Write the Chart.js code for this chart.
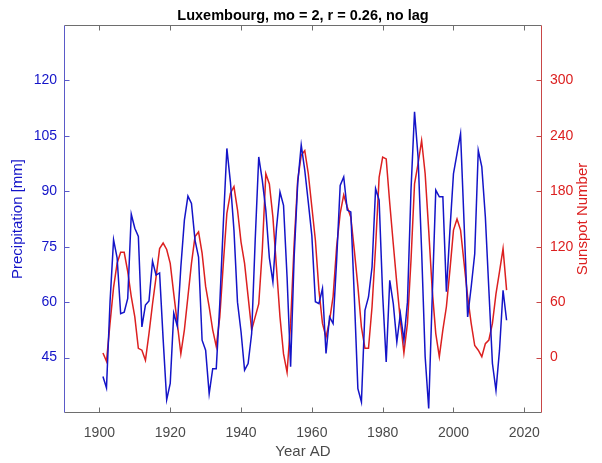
<!DOCTYPE html>
<html>
<head>
<meta charset="utf-8">
<script src="https://cdn.jsdelivr.net/npm/chart.js@4.4.0/dist/chart.umd.min.js"></script>
<style>
  html, body { margin: 0; padding: 0; background: #fff; }
  #wrap { width: 602px; height: 463px; }
</style>
</head>
<body>
<div id="wrap"><canvas id="chart" width="602" height="463"></canvas></div>
<script>
// Chart data
const firstYear = 1901;

const precipitation = [
    39.9, 36.8, 60, 76.9, 72, 56.9, 57.3, 61, 83.8, 80,
    77.8, 53.3, 59.2, 60.3, 71.1, 67.3, 67.9, 50, 33.6, 38,
    57, 53.5, 69.5, 82.2, 88.7, 86.7, 76.8, 72.2, 49.7, 47,
    35.2, 42, 42, 59.6, 81.3, 101.6, 92.5, 79.5, 60, 52,
    41.6, 43.4, 51.5, 76.8, 99.3, 93, 84.9, 72, 65.5, 79.9,
    89.8, 86.2, 66.8, 42.5, 72.2, 92.1, 102.5, 95.7, 87, 78,
    60.1, 59.6, 63.7, 46.1, 56, 54.2, 71.3, 91.6, 93.9, 84.9,
    84.4, 61.4, 36.6, 33, 57.8, 61.4, 69.5, 90.7, 87.6, 62,
    43.8, 65.9, 59.6, 49.2, 56.9, 49.7, 60, 90.3, 111.5, 99.3,
    74, 45.2, 31.2, 61.4, 90.3, 88.5, 88.5, 62.8, 79.5, 94.8,
    100.2, 105.6, 81.3, 56, 64.1, 73.1, 101.1, 96.6, 83.1, 63.2,
    43.4, 36.1, 47, 63.2, 55.1
];

const sunspots = [
    5, -4, 37, 76, 102, 114, 114, 93, 66, 44,
    10, 8, -3, 26, 58, 87, 118, 124, 117, 102,
    69, 37, 4, 30, 66, 102, 131, 136, 113, 77,
    55, 30, 12, 44, 102, 156, 178, 185, 160, 125,
    102, 66, 30, 44, 58, 116, 199, 188, 152, 98,
    44, 4, -16, 37, 123, 192, 219, 224, 199, 163,
    127, 73, 37, 22, 40, 66, 120, 156, 176, 163,
    152, 116, 77, 33, 10, 10, 55, 120, 195, 217,
    215, 167, 123, 80, 40, 5, 37, 105, 188, 210,
    235, 199, 138, 73, 26, 1, 30, 55, 95, 138,
    150, 138, 102, 66, 37, 13, 8, 1, 15, 19,
    37, 69, 93, 118, 73
];

const yearTicks = [1900, 1920, 1940, 1960, 1980, 2000, 2020];
const precipTicks = [45, 60, 75, 90, 105, 120];
const sunspotTicks = [0, 60, 120, 180, 240, 300];

const blue = '#1414c8';
const red = '#dc2020';
const blueAxis = '#5a5ac8';
const redAxis = '#c84646';
const grayAxis = '#6e6e6e';
const font = 'Liberation Sans, Arial, Helvetica, sans-serif';

function toPoints(values) {
    return values.map((v, i) => ({ x: firstYear + i, y: v }));
}

// MATLAB style box with inward ticks, title and right label
const frame = {
    id: 'frame',
    afterDraw(chart) {
        const ctx = chart.ctx;
        const a = chart.chartArea;
        const s = chart.scales;
        const len = 5;
        ctx.save();
        ctx.lineWidth = 1;
        const seg = (x1, y1, x2, y2, c) => {
            ctx.strokeStyle = c;
            ctx.beginPath();
            ctx.moveTo(x1, y1);
            ctx.lineTo(x2, y2);
            ctx.stroke();
        };
        const L = Math.round(a.left) + 0.5, R = Math.round(a.right) - 0.5;
        const T = Math.round(a.top) + 0.5, B = Math.round(a.bottom) - 0.5;
        seg(L, T, R, T, grayAxis);
        seg(L, B, R, B, grayAxis);
        seg(L, T, L, B, blueAxis);
        seg(R, T, R, B, redAxis);
        yearTicks.forEach(t => {
            const x = Math.round(s.x.getPixelForValue(t)) + 0.5;
            seg(x, B, x, B - len, grayAxis);
            seg(x, T, x, T + len, grayAxis);
        });
        precipTicks.forEach(t => {
            const y = Math.round(s.y.getPixelForValue(t)) + 0.5;
            seg(L, y, L + len, y, blueAxis);
        });
        sunspotTicks.forEach(t => {
            const y = Math.round(s.y2.getPixelForValue(t)) + 0.5;
            seg(R, y, R - len, y, redAxis);
        });
        // title
        ctx.fillStyle = '#000';
        ctx.font = 'bold 14.5px ' + font;
        ctx.textAlign = 'center';
        ctx.textBaseline = 'middle';
        ctx.fillText('Luxembourg, mo = 2, r = 0.26, no lag', (a.left + a.right) / 2, 16);
        // right axis label, reading bottom to top
        ctx.translate(583, (a.top + a.bottom) / 2);
        ctx.rotate(-Math.PI / 2);
        ctx.fillStyle = red;
        ctx.font = '15px ' + font;
        ctx.fillText('Sunspot Number', 0, 0);
        ctx.restore();
    }
};

new Chart(document.getElementById('chart'), {
    type: 'line',
    data: {
        datasets: [
            {
                label: 'Precipitation',
                data: toPoints(precipitation),
                yAxisID: 'y',
                borderColor: blue,
                borderWidth: 1.5,
                pointRadius: 0,
                tension: 0,
                fill: false
            },
            {
                label: 'Sunspot Number',
                data: toPoints(sunspots),
                yAxisID: 'y2',
                borderColor: red,
                borderWidth: 1.5,
                pointRadius: 0,
                tension: 0,
                fill: false
            }
        ]
    },
    options: {
        responsive: false,
        animation: false,
        devicePixelRatio: 1,
        layout: { padding: { top: 25, left: 0, right: 0, bottom: 0 } },
        plugins: {
            legend: { display: false },
            tooltip: { enabled: false },
            title: { display: false }
        },
        scales: {
            x: {
                type: 'linear',
                min: 1890,
                max: 2025,
                afterFit: sc => { sc.height = 50; },
                afterBuildTicks: sc => { sc.ticks = yearTicks.map(v => ({ value: v })); },
                grid: { display: false, drawTicks: false },
                border: { display: false },
                ticks: {
                    color: '#4a4a4a',
                    font: { family: font, size: 14 },
                    padding: 12,
                    maxRotation: 0,
                    callback: v => String(v)
                },
                title: {
                    display: true,
                    text: 'Year AD',
                    color: '#4a4a4a',
                    font: { family: font, size: 15 },
                    padding: { top: 0, bottom: 2 }
                }
            },
            y: {
                position: 'left',
                min: 30,
                max: 135,
                afterFit: sc => { sc.width = 64; },
                afterBuildTicks: sc => { sc.ticks = precipTicks.map(v => ({ value: v })); },
                grid: { display: false, drawTicks: false },
                border: { display: false },
                ticks: {
                    color: blue,
                    font: { family: font, size: 14 },
                    padding: 7
                },
                title: {
                    display: true,
                    text: 'Precipitation [mm]',
                    color: blue,
                    font: { family: font, size: 15 },
                    padding: { top: 9, bottom: 0 }
                }
            },
            y2: {
                position: 'right',
                min: -60,
                max: 360,
                afterFit: sc => { sc.width = 60; },
                afterBuildTicks: sc => { sc.ticks = sunspotTicks.map(v => ({ value: v })); },
                grid: { display: false, drawTicks: false },
                border: { display: false },
                ticks: {
                    color: red,
                    font: { family: font, size: 14 },
                    padding: 8
                },
                title: { display: false }
            }
        }
    },
    plugins: [frame]
});
</script>
</body>
</html>
